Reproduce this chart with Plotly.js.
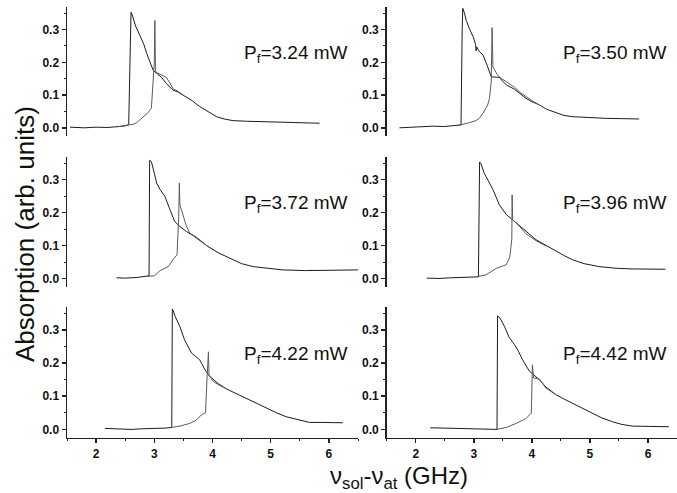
<!DOCTYPE html>
<html>
<head>
<meta charset="utf-8">
<script src="https://cdn.plot.ly/plotly-3.0.1.min.js"></script>
<style>html,body{margin:0;padding:0;background:#fff;}#chart{width:677px;height:493px;}</style>
</head>
<body>
<div id="chart"></div>
<script>
// Pump powers (panel labels)
const powers = ['3.24', '3.50', '3.72', '3.96', '4.22', '4.42'];
// Tick labels
const xTickVals = [2, 3, 4, 5, 6];
const xTickText = ['2', '3', '4', '5', '6'];
const yTickVals = [0, 0.1, 0.2, 0.3];
const yTickText = ['0.0', '0.1', '0.2', '0.3'];

// Panel 1 (Pf = 3.24 mW)
const p1DownX = [1.55, 1.8, 2.0, 2.2, 2.4, 2.5, 2.56, 2.59, 2.60, 2.62, 2.68, 2.75, 2.78, 2.82, 2.87, 2.93, 2.98, 3.05, 3.12, 3.21, 3.28, 3.32, 3.4, 3.5, 3.65, 3.78, 3.92, 4.07, 4.2, 4.35, 4.6, 4.93, 5.2, 5.5, 5.84];
const p1DownY = [0.002, 0.0, 0.002, 0.001, 0.004, 0.006, 0.01, 0.25, 0.353, 0.345, 0.31, 0.283, 0.27, 0.255, 0.227, 0.2, 0.176, 0.165, 0.155, 0.135, 0.12, 0.115, 0.11, 0.10, 0.083, 0.065, 0.05, 0.034, 0.027, 0.022, 0.02, 0.019, 0.017, 0.015, 0.014];
const p1UpX = [2.4, 2.5, 2.6, 2.64, 2.7, 2.75, 2.81, 2.89, 2.95, 2.98, 3.0, 3.01, 3.015, 3.02, 3.05, 3.12, 3.2, 3.26, 3.32, 3.4, 3.5];
const p1UpY = [0.004, 0.006, 0.009, 0.011, 0.016, 0.024, 0.034, 0.046, 0.06, 0.16, 0.2, 0.328, 0.2, 0.172, 0.168, 0.162, 0.155, 0.14, 0.12, 0.112, 0.10];

// Panel 2 (Pf = 3.50 mW)
const p2DownX = [1.72, 1.9, 2.1, 2.3, 2.5, 2.7, 2.78, 2.80, 2.81, 2.84, 2.87, 2.93, 2.99, 3.03, 3.04, 3.05, 3.1, 3.16, 3.2, 3.24, 3.30, 3.37, 3.44, 3.5, 3.56, 3.70, 3.80, 3.90, 4.0, 4.13, 4.25, 4.42, 4.55, 4.70, 5.0, 5.27, 5.55, 5.85];
const p2DownY = [0.0, 0.002, 0.003, 0.005, 0.004, 0.006, 0.009, 0.3, 0.365, 0.35, 0.328, 0.3, 0.278, 0.255, 0.235, 0.247, 0.232, 0.222, 0.205, 0.186, 0.156, 0.155, 0.154, 0.142, 0.131, 0.118, 0.103, 0.09, 0.08, 0.07, 0.057, 0.045, 0.038, 0.034, 0.031, 0.029, 0.028, 0.027];
const p2UpX = [2.7, 2.82, 2.93, 3.04, 3.10, 3.16, 3.24, 3.27, 3.30, 3.315, 3.32, 3.33, 3.41, 3.48, 3.56, 3.70, 3.80, 3.90, 4.0, 4.13];
const p2UpY = [0.006, 0.01, 0.016, 0.022, 0.03, 0.045, 0.07, 0.09, 0.14, 0.306, 0.2, 0.186, 0.161, 0.15, 0.141, 0.124, 0.108, 0.095, 0.083, 0.07];

// Panel 3 (Pf = 3.72 mW)
const p3DownX = [2.35, 2.5, 2.7, 2.87, 2.91, 2.92, 2.95, 3.0, 3.04, 3.10, 3.18, 3.27, 3.35, 3.44, 3.55, 3.67, 3.78, 3.90, 4.1, 4.35, 4.5, 4.70, 5.0, 5.21, 5.6, 6.07, 6.3, 6.50];
const p3DownY = [0.002, 0.001, 0.003, 0.006, 0.008, 0.359, 0.355, 0.32, 0.29, 0.27, 0.25, 0.209, 0.173, 0.158, 0.143, 0.13, 0.115, 0.1, 0.078, 0.057, 0.045, 0.036, 0.03, 0.026, 0.024, 0.024, 0.025, 0.026];
const p3UpX = [2.85, 3.0, 3.10, 3.24, 3.32, 3.39, 3.42, 3.43, 3.44, 3.50, 3.55, 3.61, 3.72, 3.82, 3.92, 4.1];
const p3UpY = [0.006, 0.008, 0.024, 0.036, 0.057, 0.072, 0.188, 0.29, 0.224, 0.188, 0.16, 0.138, 0.126, 0.112, 0.097, 0.078];

// Panel 4 (Pf = 3.96 mW)
const p4DownX = [2.19, 2.4, 2.6, 2.8, 3.0, 3.08, 3.10, 3.12, 3.18, 3.24, 3.33, 3.44, 3.56, 3.67, 3.79, 3.90, 4.07, 4.25, 4.42, 4.55, 4.70, 4.9, 5.16, 5.45, 5.73, 6.0, 6.30];
const p4DownY = [0.001, 0.0, 0.002, 0.003, 0.004, 0.005, 0.354, 0.35, 0.32, 0.30, 0.27, 0.224, 0.194, 0.178, 0.16, 0.143, 0.118, 0.1, 0.082, 0.07, 0.057, 0.045, 0.036, 0.031, 0.029, 0.028, 0.028];
const p4UpX = [3.05, 3.21, 3.39, 3.5, 3.56, 3.62, 3.655, 3.66, 3.67, 3.72, 3.79, 3.90, 4.07, 4.25];
const p4UpY = [0.005, 0.011, 0.031, 0.038, 0.042, 0.065, 0.12, 0.254, 0.178, 0.17, 0.158, 0.136, 0.115, 0.098];

// Panel 5 (Pf = 4.22 mW)
const p5DownX = [2.15, 2.4, 2.6, 2.8, 3.0, 3.2, 3.30, 3.31, 3.32, 3.36, 3.44, 3.52, 3.58, 3.64, 3.78, 3.87, 3.95, 4.01, 4.1, 4.24, 4.52, 4.7, 4.93, 5.1, 5.27, 5.45, 5.67, 5.9, 6.24];
const p5DownY = [0.003, 0.001, 0.0, 0.002, 0.002, 0.004, 0.006, 0.363, 0.36, 0.34, 0.31, 0.27, 0.25, 0.23, 0.21, 0.18, 0.16, 0.15, 0.138, 0.122, 0.099, 0.082, 0.064, 0.05, 0.038, 0.03, 0.021, 0.021, 0.02];
const p5UpX = [3.3, 3.44, 3.61, 3.72, 3.81, 3.88, 3.905, 3.93, 3.94, 4.01, 4.1, 4.24];
const p5UpY = [0.006, 0.01, 0.018, 0.028, 0.044, 0.05, 0.15, 0.234, 0.165, 0.145, 0.135, 0.122];

// Panel 6 (Pf = 4.42 mW)
const p6DownX = [2.25, 2.5, 2.8, 3.0, 3.2, 3.40, 3.41, 3.43, 3.47, 3.53, 3.61, 3.70, 3.77, 3.84, 3.96, 4.07, 4.13, 4.24, 4.42, 4.55, 4.70, 4.87, 5.04, 5.2, 5.39, 5.55, 5.73, 6.0, 6.36];
const p6DownY = [0.005, 0.004, 0.003, 0.002, 0.0, 0.0, 0.342, 0.34, 0.33, 0.31, 0.277, 0.256, 0.235, 0.21, 0.175, 0.158, 0.15, 0.128, 0.104, 0.092, 0.079, 0.064, 0.049, 0.035, 0.023, 0.015, 0.01, 0.009, 0.008];
const p6UpX = [3.4, 3.56, 3.73, 3.90, 3.99, 4.005, 4.01, 4.03, 4.13, 4.24, 4.42];
const p6UpY = [0.0, 0.006, 0.018, 0.033, 0.049, 0.12, 0.195, 0.155, 0.152, 0.125, 0.104];

const panels = [
  [p1DownX, p1DownY, p1UpX, p1UpY],
  [p2DownX, p2DownY, p2UpX, p2UpY],
  [p3DownX, p3DownY, p3UpX, p3UpY],
  [p4DownX, p4DownY, p4UpX, p4UpY],
  [p5DownX, p5DownY, p5UpX, p5UpY],
  [p6DownX, p6DownY, p6UpX, p6UpY]
];

const W = 677, H = 493;
const FONT = '"Liberation Sans", Arial, Helvetica, sans-serif';
const colDom = [[67 / W, 358 / W], [386.7 / W, 1.0]];
const rowDom = [[1 - 136 / H, 1 - 6.7 / H], [1 - 286.7 / H, 1 - 156.7 / H], [1 - 437.7 / H, 1 - 306.7 / H]];
const bold = arr => arr.map(t => '<b>' + t + '</b>');

const traces = [];
const layout = {
  width: W, height: H,
  margin: {l: 0, r: 0, t: 0, b: 0},
  paper_bgcolor: '#fff', plot_bgcolor: 'rgba(0,0,0,0)',
  showlegend: false,
  font: {family: FONT, color: '#111'},
  annotations: []
};

panels.forEach((p, i) => {
  const n = i + 1;
  const row = Math.floor(i / 2), col = i % 2;
  const xa = n === 1 ? 'x' : 'x' + n;
  const ya = n === 1 ? 'y' : 'y' + n;
  traces.push({x: p[0], y: p[1], xaxis: xa, yaxis: ya, type: 'scatter', mode: 'lines',
    line: {color: '#1c1c1c', width: 1}, hoverinfo: 'skip'});
  traces.push({x: p[2], y: p[3], xaxis: xa, yaxis: ya, type: 'scatter', mode: 'lines',
    line: {color: '#5a5a5a', width: 1}, hoverinfo: 'skip'});
  const bottom = row === 2;
  layout['xaxis' + (n === 1 ? '' : n)] = {
    domain: colDom[col], anchor: ya, range: [1.5, 6.5],
    showgrid: false, zeroline: false,
    showline: bottom, linecolor: '#222', linewidth: 1.5,
    ticks: bottom ? 'outside' : '', ticklen: 4, tickwidth: 1.5, tickcolor: '#222',
    showticklabels: bottom, tickmode: 'array', tickvals: xTickVals, ticktext: bold(xTickText),
    tickfont: {family: FONT, size: 12, color: '#111'},
    minor: bottom ? {tickmode: 'linear', tick0: 0, dtick: 0.5, ticks: 'outside', ticklen: 2, tickwidth: 1, tickcolor: '#222'} : undefined
  };
  layout['yaxis' + (n === 1 ? '' : n)] = {
    domain: rowDom[row], anchor: xa, range: [-0.025, 0.37],
    showgrid: false, zeroline: false,
    showline: true, linecolor: '#222', linewidth: 1.5,
    ticks: 'outside', ticklen: 4, tickwidth: 1.5, tickcolor: '#222',
    tickmode: 'array', tickvals: yTickVals, ticktext: bold(yTickText),
    tickfont: {family: FONT, size: 12, color: '#111'},
    minor: {tickmode: 'linear', tick0: 0, dtick: 0.05, ticks: 'outside', ticklen: 2, tickwidth: 1, tickcolor: '#222'}
  };
  layout.annotations.push({
    xref: xa, yref: ya, x: 4.5, y: 0.225, xanchor: 'left', yanchor: 'middle',
    text: 'P<sub>f</sub>=' + powers[i] + ' mW', showarrow: false,
    font: {family: FONT, size: 19, color: '#111'}
  });
});

layout.annotations.push({
  xref: 'paper', yref: 'paper', x: 25 / W, y: 1 - 234 / H, xanchor: 'center', yanchor: 'middle',
  text: 'Absorption (arb. units)', textangle: -90, showarrow: false,
  font: {family: FONT, size: 26, color: '#111'}
});
layout.annotations.push({
  xref: 'paper', yref: 'paper', x: 399 / W, y: 1 - 477 / H, xanchor: 'center', yanchor: 'middle',
  text: 'ν<sub>sol</sub>-ν<sub>at</sub> (GHz)', showarrow: false, borderpad: 0,
  font: {family: FONT, size: 24, color: '#111'}
});

Plotly.newPlot('chart', traces, layout, {staticPlot: true, displayModeBar: false});
</script>
</body>
</html>
